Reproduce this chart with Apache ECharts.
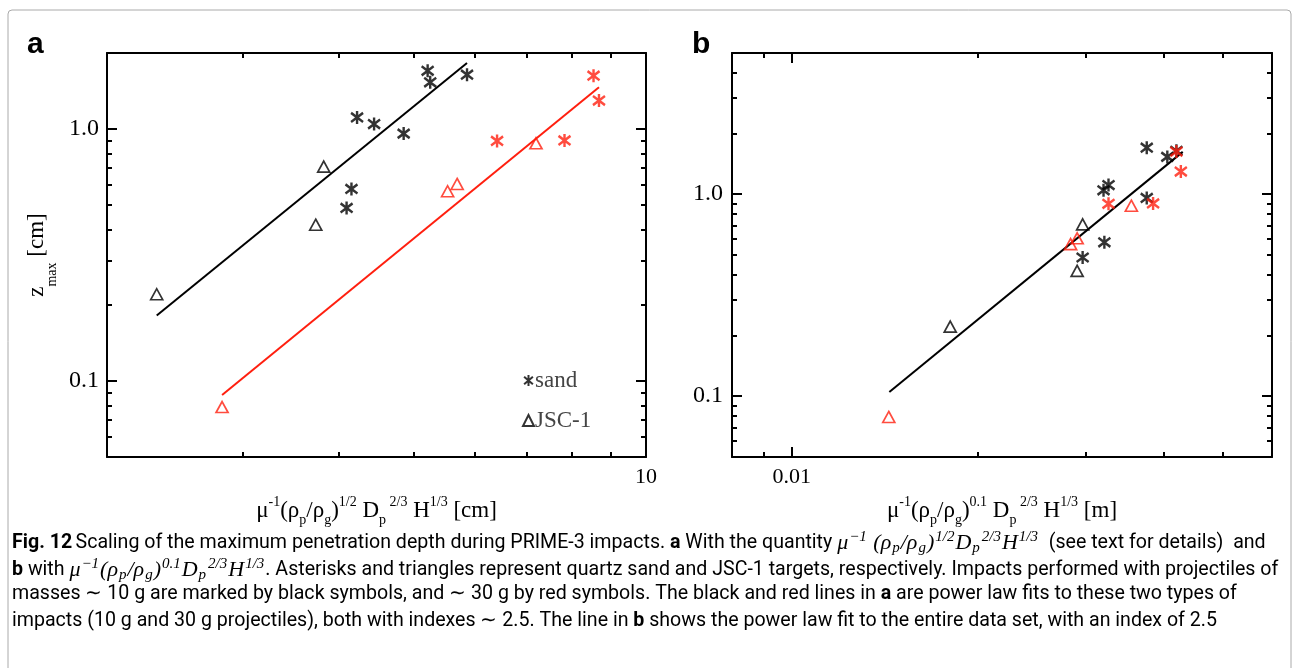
<!DOCTYPE html>
<html><head><meta charset="utf-8">
<script src="https://cdn.jsdelivr.net/npm/echarts@6/dist/echarts.min.js"></script>
<style>html,body{margin:0;padding:0;background:#fff}#c{width:1294px;height:668px}</style>
</head><body><div id="c"></div>
<script>
// ---------- Panel a : x = mu^-1 (rho_p/rho_g)^1/2 Dp^2/3 H^1/3 [cm], y = z_max [cm]
const aSand10X = [5.21, 5.25, 5.86, 4.22, 4.44, 4.85, 4.15, 4.09];
const sand10Y  = [1.70, 1.53, 1.64, 1.11, 1.045, 0.958, 0.578, 0.486];
const aJsc10X  = [2.32, 3.82, 3.73];
const jsc10Y   = [0.221, 0.709, 0.417];
const aSand30X = [8.55, 8.69, 6.41, 7.84];
const sand30Y  = [1.626, 1.295, 0.896, 0.90];
const aJsc30X  = [2.82, 5.53, 5.69, 7.20];
const jsc30Y   = [0.0789, 0.566, 0.605, 0.877];
const aFit10X = [2.32, 5.86];   const aFit10Y = [0.182, 1.826];
const aFit30X = [2.82, 8.69];   const aFit30Y = [0.0881, 1.462];

// ---------- Panel b : x = mu^-1 (rho_p/rho_g)^0.1 Dp^2/3 H^1/3 [m]
const bSand10X = [0.0376, 0.0406, 0.0420, 0.0326, 0.0320, 0.0376, 0.0321, 0.0296];
const bJsc10X  = [0.01806, 0.0296, 0.0290];
const bSand30X = [0.0420, 0.0427, 0.0326, 0.0385];
const bJsc30X  = [0.01436, 0.0283, 0.0290, 0.0355];
const bFitX = [0.01439, 0.0430];  const bFitY = [0.105, 1.62];

// ---------- axis ranges and ticks
const aXRange = [2, 10];     const aYRange = [0.05, 2];
const bXRange = [0.008, 0.06]; const bYRange = [0.05, 5];
const aXMajor = [10];  const aXMinor = [3, 4, 5, 6, 7, 8, 9];
const aYMajor = [0.1, 1]; const aYMinor = [0.06, 0.07, 0.08, 0.09, 0.2, 0.3, 0.4, 0.5, 0.6, 0.7, 0.8, 0.9];
const bXMajor = [0.01]; const bXMinor = [0.009, 0.02, 0.03, 0.04, 0.05];
const bYMajor = [0.1, 1]; const bYMinor = [0.06, 0.07, 0.08, 0.09, 0.2, 0.3, 0.4, 0.5, 0.6, 0.7, 0.8, 0.9, 2, 3, 4];

const zip = (xs, ys) => xs.map((x, i) => [x, ys[i]]);
const RED = '#ff1f0f';
const SERIF = 'Liberation Serif';
const STAR = 'path://M0,-10L0,10M-8,-7L8,7M-8,7L8,-7';

const richX = {
  m:   {fontFamily: SERIF, fontSize: 23, lineHeight: 32, color: '#000', verticalAlign: 'middle'},
  sup: {fontFamily: SERIF, fontSize: 14, lineHeight: 12, color: '#000', verticalAlign: 'top'},
  sub: {fontFamily: SERIF, fontSize: 14, lineHeight: 12, color: '#000', verticalAlign: 'bottom'}
};
const richY = {
  m:   {fontFamily: SERIF, fontSize: 23, lineHeight: 44, color: '#000', verticalAlign: 'middle'},
  sub: {fontFamily: SERIF, fontSize: 14, lineHeight: 13, color: '#000', verticalAlign: 'bottom'}
};

function axesFor(dim, grid, range, majors, minors, fmt, labelSize, name, nameGap, labelMargin, rich) {
  const pos = dim === 'x' ? ['bottom', 'top'] : ['left', 'right'];
  const base = {type: 'log', logBase: 10, gridIndex: grid, min: range[0], max: range[1],
    splitLine: {show: false}, minorTick: {show: false}, minorSplitLine: {show: false}};
  const list = [];
  pos.forEach((p, k) => {
    list.push(Object.assign({}, base, {
      position: p,
      axisLine: {show: true, onZero: false, lineStyle: {color: '#000', width: 2}},
      axisTick: {show: true, inside: true, length: 10, customValues: majors, lineStyle: {color: '#000', width: 2}},
      axisLabel: k === 0 ? {show: true, customValues: majors, formatter: fmt, fontFamily: SERIF,
        fontSize: labelSize, color: '#000', margin: labelMargin} : {show: false},
      name: k === 0 ? name : '',
      nameLocation: 'middle', nameGap: nameGap, nameRotate: dim === 'y' ? 90 : 0,
      nameTextStyle: {rich: rich}
    }));
    list.push(Object.assign({}, base, {
      position: p,
      axisLine: {show: false, onZero: false},
      axisTick: {show: true, inside: true, length: 5, customValues: minors, lineStyle: {color: '#000', width: 2}},
      axisLabel: {show: false}
    }));
  });
  return list;
}

const fmtX = v => String(v);
const fmtY = v => v.toFixed(1);

const xAxes = [].concat(
  axesFor('x', 0, aXRange, aXMajor, aXMinor, fmtX, 22,
    '{m|μ}{sup|-1}{m|(ρ}{sub|p}{m|/ρ}{sub|g}{m|)}{sup|1/2}{m| D}{sub|p}{sup| 2/3}{m| H}{sup|1/3}{m| [cm]}', 38, 9, richX),
  axesFor('x', 1, bXRange, bXMajor, bXMinor, fmtX, 22,
    '{m|μ}{sup|-1}{m|(ρ}{sub|p}{m|/ρ}{sub|g}{m|)}{sup|0.1}{m| D}{sub|p}{sup| 2/3}{m| H}{sup|1/3}{m| [m]}', 38, 9, richX)
);
const yAxes = [].concat(
  axesFor('y', 0, aYRange, aYMajor, aYMinor, fmtY, 24, '{m|z}{sub|max}{m| [cm]}', 48, 8, richY),
  axesFor('y', 1, bYRange, bYMajor, bYMinor, fmtY, 24, '', 48, 9, richY)
);

function scat(name, xi, yi, data, sym, color, size) {
  const isTri = sym === 'triangle';
  return {type: 'scatter', name: name, xAxisIndex: xi, yAxisIndex: yi, data: data,
    symbol: sym, symbolSize: size, z: 3,
    itemStyle: {color: isTri ? 'rgba(255,255,255,0)' : color, borderColor: color, borderWidth: isTri ? 1.7 : 2.5},
    emphasis: {disabled: true}};
}
function fit(xi, yi, xs, ys, color) {
  return {type: 'line', xAxisIndex: xi, yAxisIndex: yi, data: zip(xs, ys), symbol: 'none',
    lineStyle: {color: color, width: 2}, z: 2, silent: true};
}

const STAR_SIZE = [12, 13];
const option = {
  animation: false,
  backgroundColor: '#fff',
  grid: [
    {left: 107, top: 53, width: 539, height: 404},
    {left: 732, top: 53, width: 540, height: 404}
  ],
  xAxis: xAxes,
  yAxis: yAxes,
  legend: {
    data: [{name: 'sand', icon: STAR}, {name: 'JSC-1', icon: 'triangle'}],
    orient: 'vertical', left: 517, top: 364, itemGap: 17, itemWidth: 11, itemHeight: 11,
    textStyle: {fontFamily: SERIF, fontSize: 23, color: '#444', padding: [0, 0, 0, -4]},
    selectedMode: false
  },
  series: [
    fit(0, 0, aFit10X, aFit10Y, '#000'),
    fit(0, 0, aFit30X, aFit30Y, RED),
    scat('sand', 0, 0, zip(aSand10X, sand10Y), STAR, '#000', STAR_SIZE),
    scat('JSC-1', 0, 0, zip(aJsc10X, jsc10Y), 'triangle', '#000', [12, 11]),
    scat('sand30', 0, 0, zip(aSand30X, sand30Y), STAR, RED, STAR_SIZE),
    scat('JSC-130', 0, 0, zip(aJsc30X, jsc30Y), 'triangle', RED, [12, 11]),
    fit(4, 4, bFitX, bFitY, '#000'),
    scat('b sand', 4, 4, zip(bSand10X, sand10Y), STAR, '#000', STAR_SIZE),
    scat('b JSC-1', 4, 4, zip(bJsc10X, jsc10Y), 'triangle', '#000', [12, 11]),
    scat('b sand30', 4, 4, zip(bSand30X, sand30Y), STAR, RED, STAR_SIZE),
    scat('b JSC-130', 4, 4, zip(bJsc30X, jsc30Y), 'triangle', RED, [12, 11])
  ],
  graphic: [
    {type: 'rect', shape: {x: 8, y: 10, width: 1283, height: 720, r: 4}, style: {fill: 'none', stroke: '#aaa', lineWidth: 1}, silent: true, z: -1},
    {type: 'text', left: 27, top: 30, style: {text: 'a', font: 'bold 30px "Liberation Sans"', fill: '#000'}},
    {type: 'text', left: 692, top: 30, style: {text: 'b', font: 'bold 30px "Liberation Sans"', fill: '#000'}}
  ]
};

// caption
const CF = 'Roboto';
const capRich = {
  n:  {fontFamily: CF, fontSize: 19.6, color: '#231f20', lineHeight: 26},
  b:  {fontFamily: CF, fontSize: 19.6, fontWeight: 'bold', color: '#231f20', lineHeight: 26},
  i:  {fontFamily: SERIF, fontStyle: 'italic', fontSize: 22, color: '#231f20', lineHeight: 26},
  su: {fontFamily: SERIF, fontStyle: 'italic', fontSize: 15, color: '#231f20', lineHeight: 12, verticalAlign: 'top', padding: [0, 1, 0, 1]},
  sb: {fontFamily: SERIF, fontStyle: 'italic', fontSize: 15, color: '#231f20', lineHeight: 12, verticalAlign: 'bottom', padding: [0, 1, 0, 1]}
};
const capLines = [
  '{b|Fig. 12} {n|Scaling of the maximum penetration depth during PRIME-3 impacts. }{b|a}{n| With the quantity }{i|μ}{su|−1}{i| (ρ}{sb|p}{i|/ρ}{sb|g}{i|)}{su|1/2}{i|D}{sb|p}{su|2/3}{i|H}{su|1/3}{n|  (see text for details)  and}',
  '{b|b}{n| with }{i|μ}{su|−1}{i|(ρ}{sb|p}{i|/ρ}{sb|g}{i|)}{su|0.1}{i|D}{sb|p}{su|2/3}{i|H}{su|1/3}{n|. Asterisks and triangles represent quartz sand and JSC-1 targets, respectively. Impacts performed with projectiles of}',
  '{n|masses ∼ 10 g are marked by black symbols, and ∼ 30 g by red symbols. The black and red lines in }{b|a}{n| are power law fits to these two types of}',
  '{n|impacts (10 g and 30 g projectiles), both with indexes ∼ 2.5. The line in }{b|b}{n| shows the power law fit to the entire data set, with an index of 2.5}'
];
capLines.forEach((t, k) => {
  option.graphic.push({type: 'text', left: 12, top: 530 + k * 26.9, style: {text: t, rich: capRich}});
});

const chart = echarts.init(document.getElementById('c'));
chart.setOption(option);
</script></body></html>
